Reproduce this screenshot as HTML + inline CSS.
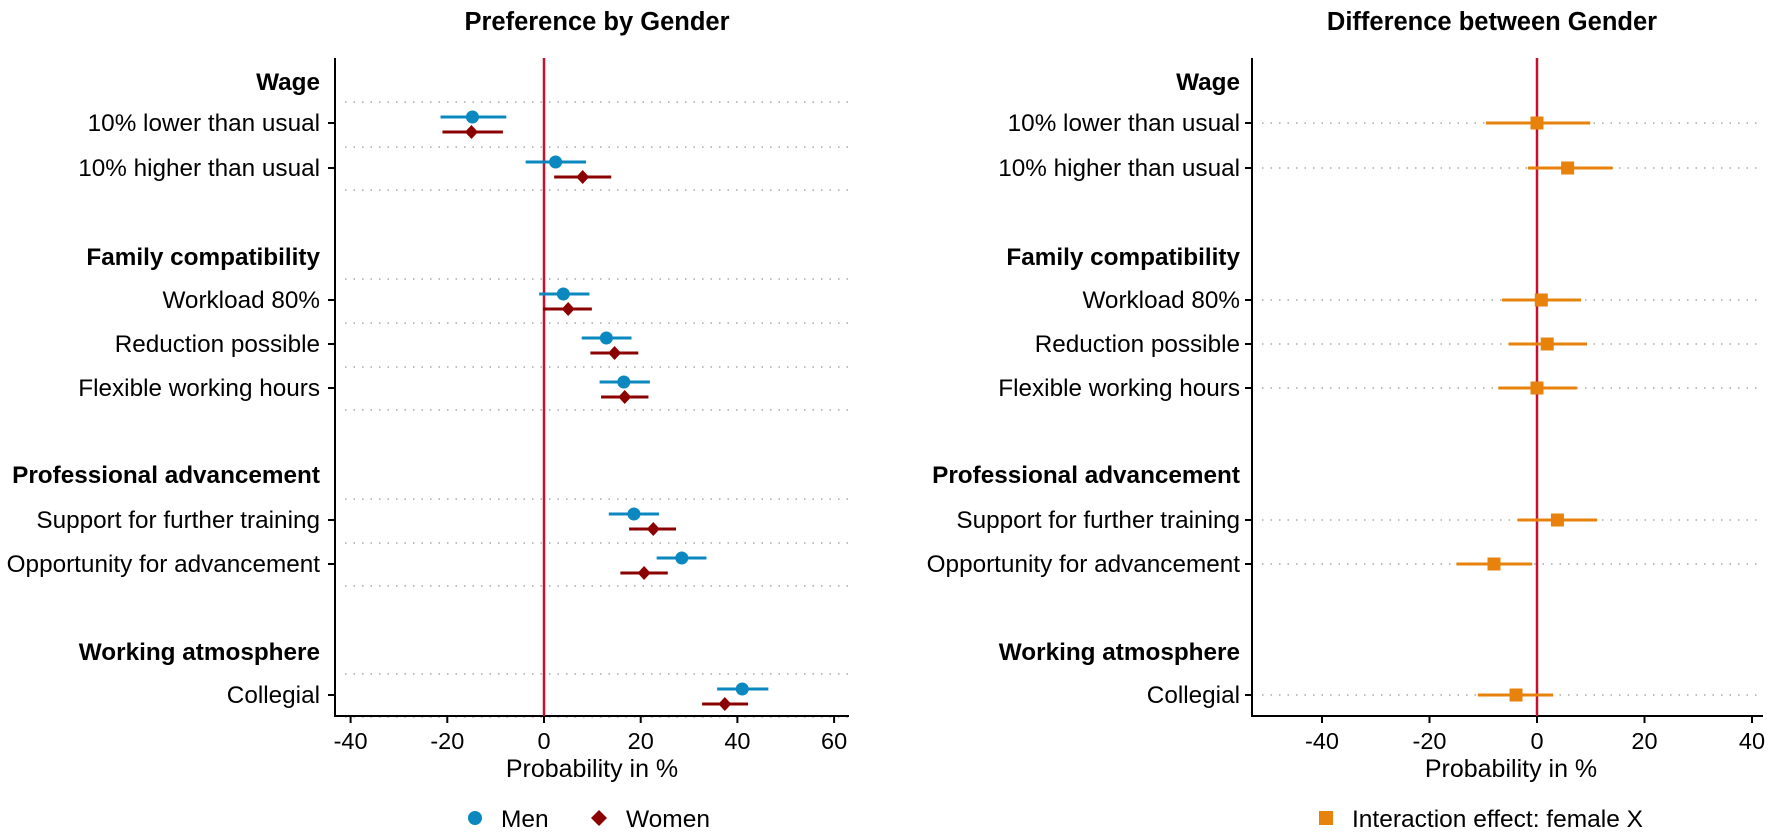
<!DOCTYPE html>
<html><head><meta charset="utf-8">
<style>
html,body{margin:0;padding:0;background:#fff;}
svg{display:block;font-family:"Liberation Sans",Arial,sans-serif;}
</style></head>
<body>
<svg id="chart" width="1772" height="833" viewBox="0 0 1772 833" xmlns="http://www.w3.org/2000/svg"></svg>
<script>
const groups = ["Wage","Family compatibility","Professional advancement","Working atmosphere"];
const rowLabels = ["10% lower than usual","10% higher than usual","Workload 80%","Reduction possible","Flexible working hours","Support for further training","Opportunity for advancement","Collegial"];
const rowGroup = [0,0,1,1,1,2,2,3];
const menEst = [-14.8,2.4,4.0,12.9,16.5,18.6,28.5,41.0];
const menLo = [-21.4,-3.8,-1.0,7.8,11.5,13.4,23.3,35.8];
const menHi = [-7.8,8.7,9.4,18.1,21.9,23.8,33.6,46.4];
const womenEst = [-15.0,8.0,5.0,14.6,16.7,22.6,20.7,37.4];
const womenLo = [-21.0,2.1,-0.2,9.6,11.8,17.6,15.8,32.7];
const womenHi = [-8.5,13.9,9.9,19.5,21.6,27.3,25.6,42.2];
const diffEst = [0.0,5.7,0.8,1.9,0.0,3.8,-8.0,-3.9];
const diffLo = [-9.5,-1.7,-6.5,-5.3,-7.2,-3.6,-15.0,-11.0];
const diffHi = [9.9,14.1,8.2,9.3,7.4,11.2,-0.9,3.0];
const leftTicks = [-40,-20,0,20,40,60];
const rightTicks = [-40,-20,0,20,40];

const NS="http://www.w3.org/2000/svg";
const svg=document.getElementById('chart');
function mk(tag,attrs,parent){const e=document.createElementNS(NS,tag);for(const k in attrs)e.setAttribute(k,attrs[k]);(parent||svg).appendChild(e);return e;}
function txt(s,attrs,parent){const e=mk('text',attrs,parent);e.textContent=s;return e;}

const rowY=[123,168,300,344,388,520,564,695];
const groupY=[82,257,475,652];
const AX_Y=716, TOP=58;
const xL=v=>544+v*4.835;
const xR=v=>1537+v*5.375;
const C_MEN="#0a88bf", C_WOM="#8b0000", C_ORG="#e7820c", C_RED="#c8102e";
const FS=24.3;

function panel(pfx,axX,axEnd,xf,ticks,labelRight,title,titleX,betweenDots){
  const g=mk('g',{});
  
  
  const t=txt(title,{x:titleX,y:30,'text-anchor':'middle','font-size':25.5,'font-weight':'bold'},g);
  
  
  let ys=[];
  if(betweenDots){
    [[0,1],[2,3,4],[5,6],[7]].forEach(idx=>{idx.forEach(i=>ys.push(rowY[i]-21));ys.push(rowY[idx[idx.length-1]]+22);});
  } else ys=rowY.slice();
  ys.forEach(y=>{const l=mk('line',{x1:axX+10,x2:axEnd,y1:y,y2:y,stroke:'#a8a8a8','stroke-width':1.6,'stroke-dasharray':'1.5 7'},g);
    
    });
  const ya=mk('line',{x1:axX,x2:axX,y1:TOP,y2:AX_Y+1,stroke:'#000','stroke-width':2},g);
  
  
  const xa=mk('line',{x1:axX-1,x2:axEnd,y1:AX_Y,y2:AX_Y,stroke:'#000','stroke-width':2},g);
  
  
  ticks.forEach(v=>{mk('line',{x1:xf(v),x2:xf(v),y1:AX_Y,y2:AX_Y+7,stroke:'#000','stroke-width':2},g);
    const tl=txt(String(v),{x:xf(v),y:749,'text-anchor':'middle','font-size':23.5},g);
    
    });
  const at=txt('Probability in %',{x:pfx==='left'?592:1511,y:777,'text-anchor':'middle','font-size':25},g);
  
  
  groups.forEach((s,i)=>{const e=txt(s,{x:labelRight,y:groupY[i]+8,'text-anchor':'end','font-size':FS,'font-weight':'bold'},g);
    
    });
  rowLabels.forEach((s,i)=>{mk('line',{x1:axX-7,x2:axX,y1:rowY[i],y2:rowY[i],stroke:'#000','stroke-width':2},g);
    const e=txt(s,{x:labelRight,y:rowY[i]+8,'text-anchor':'end','font-size':FS},g);
    
    });
  const z=mk('line',{x1:xf(0),x2:xf(0),y1:TOP,y2:AX_Y,stroke:C_RED,'stroke-width':2.5},g);
  
  
  return g;
}
const gl=panel('left',335,849,xL,leftTicks,320,'Preference by Gender',597,true);
const gr=panel('right',1252,1763,xR,rightTicks,1240,'Difference between Gender',1492,false);

function ci(g,x1,x2,y,c){mk('line',{x1:x1,x2:x2,y1:y,y2:y,stroke:c,'stroke-width':3},g);}
rowLabels.forEach((s,i)=>{
  const y=rowY[i];
  const m=mk('g',{},gl);
  
  
  ci(m,xL(menLo[i]),xL(menHi[i]),y-6,C_MEN);
  mk('circle',{cx:xL(menEst[i]),cy:y-6,r:6.5,fill:C_MEN},m);
  const w=mk('g',{},gl);
  
  
  ci(w,xL(womenLo[i]),xL(womenHi[i]),y+9,C_WOM);
  const wx=xL(womenEst[i]);
  mk('polygon',{points:`${wx},${y+2} ${wx+6.5},${y+9} ${wx},${y+16} ${wx-6.5},${y+9}`,fill:C_WOM},w);
  const d=mk('g',{},gr);
  
  
  ci(d,xR(diffLo[i]),xR(diffHi[i]),y,C_ORG);
  mk('rect',{x:xR(diffEst[i])-6.5,y:y-6.5,width:13,height:13,fill:C_ORG},d);
});

const lg=mk('g',{});


mk('circle',{cx:475,cy:818,r:7,fill:C_MEN},lg);
const t1=txt('Men',{x:501,y:827,'font-size':24.5},lg);


mk('polygon',{points:'599,810 607,818 599,826 591,818',fill:C_WOM},lg);
const t2=txt('Women',{x:626,y:827,'font-size':24.5},lg);


const lg2=mk('g',{});


mk('rect',{x:1319,y:811,width:14,height:14,fill:C_ORG},lg2);
const t3=txt('Interaction effect: female X',{x:1352,y:827,'font-size':24.5},lg2);


</script>
</body></html>
